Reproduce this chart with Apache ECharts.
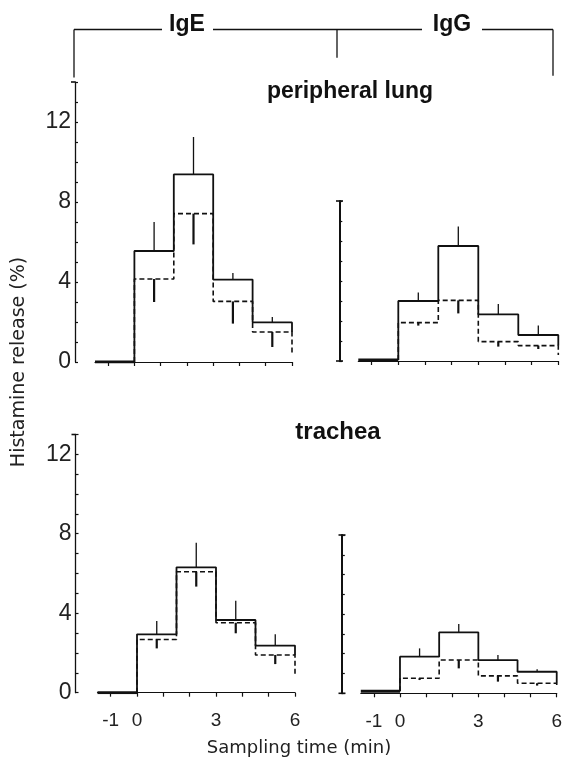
<!DOCTYPE html>
<html><head><meta charset="utf-8">
<script src="https://cdn.jsdelivr.net/npm/echarts@6/dist/echarts.min.js"></script>
<style>html,body{margin:0;padding:0;background:#fff}#c{width:565px;height:760px}</style>
</head><body><div id="c"></div>
<script>
// bin edges (min) and error-bar positions
const binEdges = [0, 1.5, 3, 4.5, 6];
const binCenters = [0.75, 2.25, 3.75, 5.25];
const preStart = -1.5;
const xTicks = [-1, 0, 1, 2, 3, 4, 5, 6];
const xLabels = [-1, 0, 3, 6];
const yLabels = [0, 4, 8, 12];

// IgE, peripheral lung
const igeLungSolid = [5.55, 9.38, 4.12, 1.98];
const igeLungSolidTop = [7.0, 11.25, 4.45, 2.25];
const igeLungDashed = [4.15, 7.42, 3.03, 1.5];
const igeLungDashedLow = [3.0, 5.88, 1.92, 0.75];
const igeLungDashedEnd = 0.4;
const igeLungBase = 0.0;
// IgG, peripheral lung
const iggLungSolid = [3.0, 5.75, 2.33, 1.3];
const iggLungSolidTop = [3.42, 6.72, 2.85, 1.77];
const iggLungDashed = [1.92, 3.03, 0.97, 0.77];
const iggLungDashedLow = [1.77, 2.38, 0.72, 0.6];
const iggLungDashedEnd = 0.3;
const iggLungBase = 0.05;
// IgE, trachea
const igeTraSolid = [2.94, 6.31, 3.66, 2.37];
const igeTraSolidTop = [3.61, 7.55, 4.63, 2.94];
const igeTraDashed = [2.68, 6.09, 3.52, 1.9];
const igeTraDashedLow = [2.23, 5.34, 2.99, 1.44];
const igeTraDashedEnd = 0.92;
const igeTraBase = 0.0;
// IgG, trachea
const iggTraSolid = [1.85, 3.08, 1.68, 1.09];
const iggTraSolidTop = [2.27, 3.5, 1.94, 1.21];
const iggTraDashed = [0.76, 1.68, 0.88, 0.51];
const iggTraDashedLow = [0.67, 1.26, 0.59, 0.39];
const iggTraDashedEnd = 0.3;
const iggTraBase = 0.1;

const INK = '#111';

function stepPts(vals, base, endVal) {
  const pts = [[binEdges[0], base]];
  for (let i = 0; i < vals.length; i++) {
    pts.push([binEdges[i], vals[i]]);
    pts.push([binEdges[i + 1], vals[i]]);
  }
  pts.push([binEdges[binEdges.length - 1], endVal]);
  return pts;
}

function errData(vals, ends) {
  return vals.map((v, i) => [binCenters[i], v, ends[i]]);
}

function panelSeries(idx, solid, solidTop, dashed, dashedLow, dashedEnd, base) {
  const ax = { xAxisIndex: idx, yAxisIndex: idx };
  return [
    Object.assign({ type: 'line', data: [[preStart, base], [0, base]], symbol: 'none', silent: true,
      lineStyle: { color: INK, width: 3 } }, ax),
    Object.assign({ type: 'line', data: stepPts(dashed, base, dashedEnd), symbol: 'none', silent: true,
      lineStyle: { color: INK, width: 1.6, type: [5, 3] } }, ax),
    Object.assign({ type: 'line', data: stepPts(solid, base, dashed[dashed.length - 1]), symbol: 'none', silent: true,
      lineStyle: { color: INK, width: 1.8 } }, ax),
    Object.assign({ type: 'custom', data: errData(solid, solidTop), silent: true,
      renderItem: function (p, api) {
        const a = api.coord([api.value(0), api.value(1)]);
        const b = api.coord([api.value(0), api.value(2)]);
        return { type: 'line', shape: { x1: a[0], y1: a[1], x2: b[0], y2: b[1] }, style: { stroke: INK, lineWidth: 1.3 } };
      } }, ax),
    Object.assign({ type: 'custom', data: errData(dashed, dashedLow), silent: true,
      renderItem: function (p, api) {
        const a = api.coord([api.value(0), api.value(1)]);
        const b = api.coord([api.value(0), api.value(2)]);
        return { type: 'line', shape: { x1: a[0], y1: a[1], x2: b[0], y2: b[1] }, style: { stroke: INK, lineWidth: 2.2 } };
      } }, ax)
  ];
}

function xAxis(idx, showLabels) {
  return {
    type: 'value', gridIndex: idx, min: preStart, max: 6,
    axisLine: { show: true, onZero: false, lineStyle: { color: INK, width: 1.2 } },
    axisTick: { show: true, customValues: xTicks, length: 4, lineStyle: { color: INK, width: 1.2 } },
    axisLabel: { show: showLabels, customValues: xLabels, color: '#222', fontSize: 19,
      fontFamily: 'Liberation Sans, Arial, sans-serif', margin: 19 },
    splitLine: { show: false }
  };
}

function yAxis(idx, max, offset, showLabels, width) {
  return {
    type: 'value', gridIndex: idx, min: 0, max: max, interval: 1, offset: offset,
    axisLine: { show: true, onZero: false, lineStyle: { color: INK, width: width } },
    axisTick: { show: true, inside: true, length: 3, lineStyle: { color: INK, width: 1.2 } },
    axisLabel: { show: showLabels, color: '#222', fontSize: 23, margin: 4,
      fontFamily: '"Liberation Sans Narrow", "Liberation Sans", Arial, sans-serif',
      formatter: function (v) { return yLabels.indexOf(v) >= 0 ? String(v) : ''; } },
    splitLine: { show: false }
  };
}

const chart = echarts.init(document.getElementById('c'), null, { renderer: 'canvas' });
const hdrY = 29.5;
const lineSty = { stroke: INK, lineWidth: 1.3 };
const capSty = { stroke: INK, lineWidth: 1.6 };
const boldFont = function (s) { return 'bold ' + s + 'px "Liberation Sans", Arial, sans-serif'; };
chart.setOption({
  animation: false,
  backgroundColor: '#fff',
  grid: [
    { left: 95, top: 82, width: 197, height: 280 },
    { left: 358.3, top: 201, width: 200, height: 160 },
    { left: 97.5, top: 434.4, width: 197.5, height: 258.3 },
    { left: 360.8, top: 535, width: 198.5, height: 158.3 }
  ],
  xAxis: [xAxis(0, false), xAxis(1, false), xAxis(2, true), xAxis(3, true)],
  yAxis: [yAxis(0, 14, 20, true, 1.3), yAxis(1, 8, 19, false, 2), yAxis(2, 13, 22, true, 1.3), yAxis(3, 8, 19, false, 2)],
  series: [].concat(
    panelSeries(0, igeLungSolid, igeLungSolidTop, igeLungDashed, igeLungDashedLow, igeLungDashedEnd, igeLungBase),
    panelSeries(1, iggLungSolid, iggLungSolidTop, iggLungDashed, iggLungDashedLow, iggLungDashedEnd, iggLungBase),
    panelSeries(2, igeTraSolid, igeTraSolidTop, igeTraDashed, igeTraDashedLow, igeTraDashedEnd, igeTraBase),
    panelSeries(3, iggTraSolid, iggTraSolidTop, iggTraDashed, iggTraDashedLow, iggTraDashedEnd, iggTraBase)
  ),
  graphic: [
    { type: 'line', shape: { x1: 74, y1: hdrY, x2: 162, y2: hdrY }, style: lineSty },
    { type: 'line', shape: { x1: 213, y1: hdrY, x2: 422, y2: hdrY }, style: lineSty },
    { type: 'line', shape: { x1: 482, y1: hdrY, x2: 553, y2: hdrY }, style: lineSty },
    { type: 'line', shape: { x1: 74, y1: hdrY, x2: 74, y2: 77.5 }, style: lineSty },
    { type: 'line', shape: { x1: 337, y1: hdrY, x2: 337, y2: 57.7 }, style: lineSty },
    { type: 'line', shape: { x1: 553, y1: hdrY, x2: 553, y2: 75.7 }, style: lineSty },
    // small end caps on the axes
    { type: 'line', shape: { x1: 71, y1: 82, x2: 75, y2: 82 }, style: capSty },
    { type: 'line', shape: { x1: 71.5, y1: 434.5, x2: 75.5, y2: 434.5 }, style: capSty },
    { type: 'line', shape: { x1: 336, y1: 201, x2: 343, y2: 201 }, style: capSty },
    { type: 'line', shape: { x1: 336, y1: 361, x2: 343, y2: 361 }, style: capSty },
    { type: 'line', shape: { x1: 338.5, y1: 535, x2: 345.5, y2: 535 }, style: capSty },
    { type: 'line', shape: { x1: 338.5, y1: 693.3, x2: 345.5, y2: 693.3 }, style: capSty },
    { type: 'text', x: 187, y: 25, style: { text: 'IgE', fill: INK, font: boldFont(23), align: 'center', verticalAlign: 'middle' } },
    { type: 'text', x: 452, y: 25, style: { text: 'IgG', fill: INK, font: boldFont(23), align: 'center', verticalAlign: 'middle' } },
    { type: 'text', x: 350, y: 92, style: { text: 'peripheral lung', fill: INK, font: boldFont(23), align: 'center', verticalAlign: 'middle' } },
    { type: 'text', x: 338, y: 432, style: { text: 'trachea', fill: INK, font: boldFont(24), align: 'center', verticalAlign: 'middle' } },
    { type: 'text', x: 19, y: 362, rotation: Math.PI / 2, style: { text: 'Histamine release (%)', fill: '#222', font: '19px "DejaVu Sans", sans-serif', align: 'center', verticalAlign: 'middle' } },
    { type: 'text', x: 299, y: 748, style: { text: 'Sampling time (min)', fill: '#222', font: '18px "DejaVu Sans", sans-serif', align: 'center', verticalAlign: 'middle' } }
  ]
});
</script></body></html>
